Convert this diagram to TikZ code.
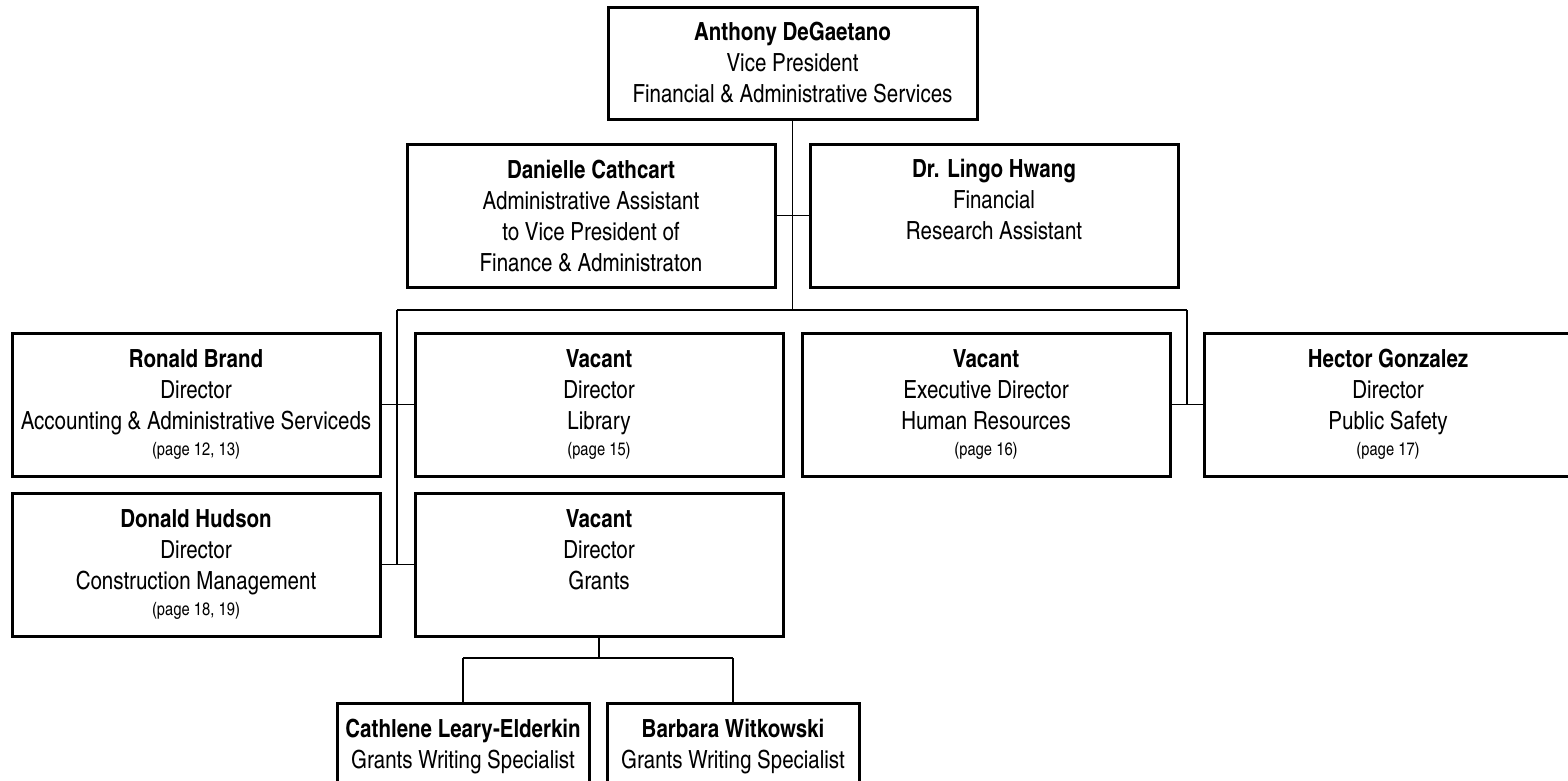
\documentclass[tikz,border=0pt]{standalone}
\usepackage{fontspec}
\setmainfont{texgyreheroscn}[Extension=.otf, UprightFont=*-regular, BoldFont=*-bold, ItalicFont=*-italic, BoldItalicFont=*-bolditalic]
\newcommand{\pg}[1]{\\[-5pt]{\fontsize{18pt}{20pt}\selectfont #1}}
\tikzset{
  box/.style={draw, line width=3pt, minimum width=368pt, minimum height=143pt,
    align=center, inner sep=0pt, font=\fontsize{25pt}{31pt}\selectfont},
  topbox/.style={box, minimum width=369pt, minimum height=112pt},
  kidbox/.style={box, minimum width=252pt, minimum height=88pt},
  conn/.style={line width=1.3pt},
}
\begin{document}
\begin{tikzpicture}[x=1pt,y=-1pt]
\useasboundingbox (0,0) rectangle (1568,780);
\fill[white] (0,0) rectangle (1568,780);
\clip (0,0) rectangle (1568,780);
\node[topbox] (top) at (792.5,63) {\textbf{Anthony DeGaetano}\\Vice President\\Financial \& Administrative Services};
\node[box] (danielle) at (591,215.5) {\textbf{Danielle Cathcart}\\Administrative Assistant\\to Vice President of\\Finance \& Administraton};
\node[box] (lingo) at (994,215.5) {\textbf{Dr. Lingo Hwang}\\Financial\\Research Assistant\\\phantom{Finance}};
\node[box] (ronald) at (196,404.5) {\textbf{Ronald Brand}\\Director\\Accounting \& Administrative Serviceds\pg{(page 12, 13)}};
\node[box] (library) at (599,404.5) {\textbf{Vacant}\\Director\\Library\pg{(page 15)}};
\node[box] (hr) at (986,404.5) {\textbf{Vacant}\\Executive Director\\Human Resources\pg{(page 16)}};
\node[box] (hector) at (1388,404.5) {\textbf{Hector Gonzalez}\\Director\\Public Safety\pg{(page 17)}};
\node[box] (donald) at (196,564.5) {\textbf{Donald Hudson}\\Director\\Construction Management\pg{(page 18, 19)}};
\node[box] (grants) at (599,564.5) {\textbf{Vacant}\\Director\\Grants\pg{\phantom{(page 15)}}};
\node[kidbox] (cathlene) at (463,747) {\textbf{Cathlene Leary-Elderkin}\\Grants Writing Specialist};
\node[kidbox] (barbara) at (733,747) {\textbf{Barbara Witkowski}\\Grants Writing Specialist};
\coordinate (busL) at (397,310);
\coordinate (busR) at (1187,310);
\coordinate (gbus) at (599,658);
\draw[conn] (top.south) -- (top.south |- busL);
\draw[conn] (danielle.east) -- (lingo.west);
\draw[conn] (busL) -- (busR);
\draw[conn] (busL) -- (busL |- donald.east);
\draw[conn] (ronald.east) -- (library.west);
\draw[conn] (donald.east) -- (grants.west);
\draw[conn] (busR) -- (busR |- hr.east);
\draw[conn] (hr.east) -- (hector.west);
\draw[conn] (grants.south) -- (gbus);
\draw[conn] (cathlene.north |- gbus) -- (barbara.north |- gbus);
\draw[conn] (cathlene.north |- gbus) -- (cathlene.north);
\draw[conn] (barbara.north |- gbus) -- (barbara.north);
\end{tikzpicture}
\end{document}
